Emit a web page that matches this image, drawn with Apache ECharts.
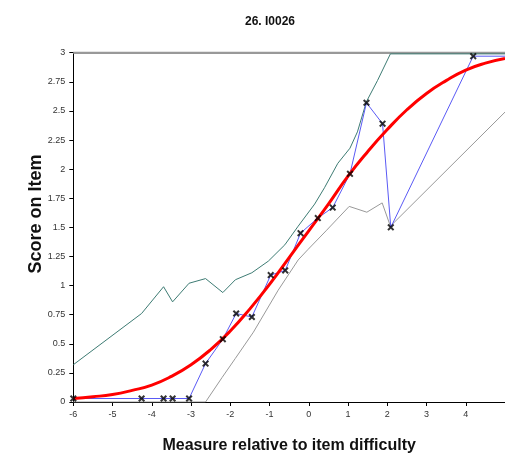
<!DOCTYPE html>
<html>
<head>
<meta charset="utf-8">
<script src="https://cdn.jsdelivr.net/npm/echarts@6/dist/echarts.min.js"></script>
<style>
html,body{margin:0;padding:0;background:#fff;}
#c{width:505px;height:459px;}
</style>
</head>
<body>
<div id="c"></div>
<script>
// ---- data ----
var titleText = '26. I0026';
var xName = 'Measure relative to item difficulty';
var yName = 'Score on Item';

// empirical points (black x markers, joined by blue line)
var obsX = [-6, -4.26, -3.70, -3.47, -3.05, -2.63, -2.19, -1.85, -1.45, -0.97, -0.60, -0.21, 0.23, 0.61, 1.05, 1.47, 1.88, 2.09, 4.19];
var obsY = [0.03, 0.03, 0.03, 0.03, 0.03, 0.33, 0.54, 0.76, 0.73, 1.09, 1.13, 1.45, 1.58, 1.67, 1.96, 2.57, 2.39, 1.50, 2.97];
// blue line continues past the right edge
var blueTailX = [5.3];
var blueTailY = [2.97];

// upper confidence band (green)
var upperX = [-6, -4.26, -3.70, -3.47, -3.05, -2.63, -2.19, -1.87, -1.45, -1.03, -0.61, -0.27, 0.15, 0.40, 0.74, 1.05, 1.24, 1.47, 1.75, 2.08, 5.3];
var upperY = [0.32, 0.76, 0.99, 0.86, 1.02, 1.06, 0.94, 1.05, 1.11, 1.21, 1.35, 1.51, 1.70, 1.84, 2.05, 2.18, 2.32, 2.58, 2.76, 2.99, 2.99];

// lower confidence band (gray)
var lowerX = [-6, -2.63, -2.21, -1.87, -1.41, -0.78, -0.27, -0.02, 0.44, 1.03, 1.48, 1.87, 2.08, 5.0];
var lowerY = [0, 0, 0.21, 0.375, 0.60, 0.96, 1.22, 1.31, 1.47, 1.68, 1.63, 1.71, 1.51, 2.49];

// model expected score curve (red)
var modelX = [-6, -5.5, -5, -4.5, -4, -3.5, -3, -2.5, -2, -1.5, -1, -0.5, 0, 0.5, 1, 1.5, 2, 2.5, 3, 3.5, 4, 4.5, 5];
var modelY = [0.03, 0.045, 0.065, 0.10, 0.145, 0.22, 0.32, 0.45, 0.61, 0.80, 1.01, 1.24, 1.47, 1.70, 1.94, 2.15, 2.34, 2.51, 2.65, 2.76, 2.85, 2.91, 2.95];

// top reference line at maximum score
var topX = [-6, 5.3];
var topY = [3, 3];

var xMin = -6, xMax = 5, xStep = 1;
var yMin = 0, yMax = 3, yStep = 0.25;

function pairs(xs, ys) { return xs.map(function (x, i) { return [x, ys[i]]; }); }

var chart = echarts.init(document.getElementById('c'), null, { renderer: 'canvas' });
var FONT = 'Liberation Sans, Arial, sans-serif';
var xMark = 'path://M0,2 L2,0 L5,3 L8,0 L10,2 L7,5 L10,8 L8,10 L5,7 L2,10 L0,8 L3,5 Z';

chart.setOption({
  animation: false,
  backgroundColor: '#fff',
  title: {
    text: titleText,
    left: 265, top: 11, textAlign: 'center',
    textStyle: { fontFamily: FONT, fontSize: 12, fontWeight: 'bold', color: '#111' }
  },
  grid: { left: 73.3, top: 52.7, right: -3.9, bottom: 45.7, containLabel: false },
  graphic: [{
    type: 'text', rotation: Math.PI / 2,
    x: 36, y: 214, originX: 0, originY: 0,
    style: { text: yName, font: 'bold 18px ' + FONT, fill: '#111', textAlign: 'center', textVerticalAlign: 'middle' }
  }],
  xAxis: {
    type: 'value', min: xMin, max: xMax, interval: xStep,
    name: xName, nameLocation: 'middle', nameGap: 36,
    nameTextStyle: { fontFamily: FONT, fontSize: 16, fontWeight: 'bold', color: '#111' },
    axisLine: { onZero: false, lineStyle: { color: '#000', width: 1 } },
    axisTick: { show: true, length: 4, inside: false, lineStyle: { color: '#000' } },
    axisLabel: { fontFamily: FONT, fontSize: 9, color: '#333', margin: 8, showMaxLabel: false },
    splitLine: { show: false }
  },
  yAxis: {
    type: 'value', min: yMin, max: yMax, interval: yStep,
    axisLine: { show: true, onZero: false, lineStyle: { color: '#000', width: 1 } },
    axisTick: { show: true, length: 4, lineStyle: { color: '#000' } },
    axisLabel: { fontFamily: FONT, fontSize: 9, color: '#333', margin: 8 },
    splitLine: { show: false }
  },
  series: [
    {
      type: 'line', data: pairs(topX, topY), symbol: 'none', silent: true,
      lineStyle: { color: '#999999', width: 2.5 }, z: 1
    },
    {
      type: 'line', data: pairs(lowerX, lowerY), symbol: 'none', silent: true,
      lineStyle: { color: '#999999', width: 1 }, z: 2
    },
    {
      type: 'line', data: pairs(upperX, upperY), symbol: 'none', silent: true,
      lineStyle: { color: '#3d7b73', width: 1 }, z: 3
    },
    {
      type: 'line', data: pairs(obsX.concat(blueTailX), obsY.concat(blueTailY)), symbol: 'none', silent: true,
      lineStyle: { color: '#5a5af5', width: 1 }, z: 4
    },
    {
      type: 'line', data: pairs(modelX, modelY), symbol: 'none', smooth: true, silent: true,
      lineStyle: { color: '#ff0000', width: 3 }, z: 5
    },
    {
      type: 'scatter', data: pairs(obsX, obsY), symbol: xMark, symbolSize: 7, silent: true,
      itemStyle: { color: '#000' }, z: 6
    }
  ]
});
</script>
</body>
</html>
